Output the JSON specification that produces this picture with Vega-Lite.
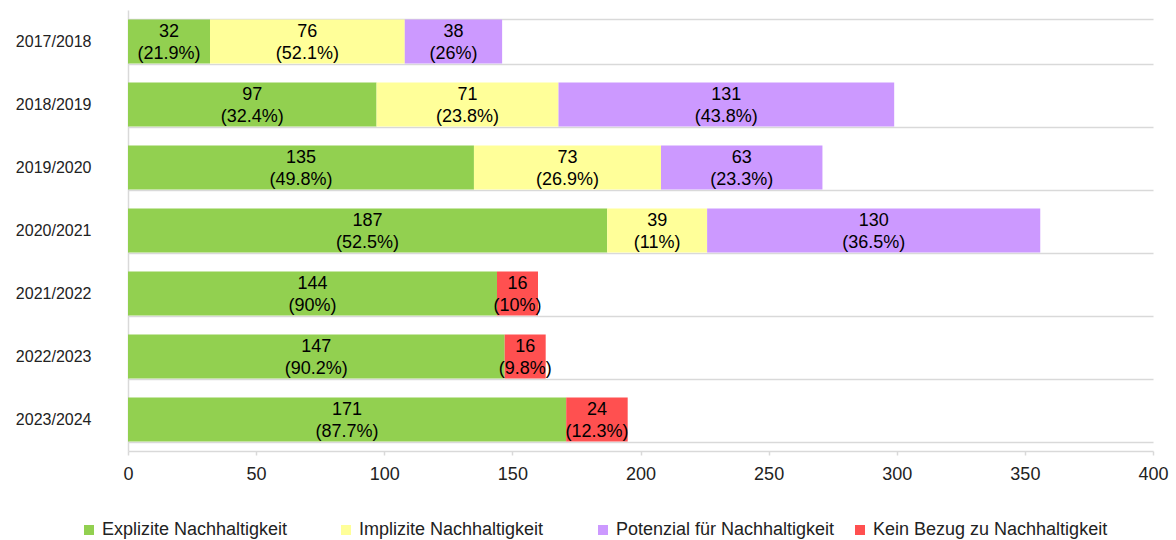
{
  "$schema": "https://vega.github.io/schema/vega-lite/v6.json",
  "width": 1025,
  "height": 441,
  "autosize": {"type": "none"},
  "padding": {"left": 128, "top": 10, "right": 23, "bottom": 89},
  "background": "white",
  "config": {
    "font": "Liberation Sans",
    "view": {"stroke": null}
  },
  "data": {
    "values": [
      {"year": "2017/2018", "cat": "Explizite Nachhaltigkeit", "value": 32, "label": "32\n(21.9%)"},
      {"year": "2017/2018", "cat": "Implizite Nachhaltigkeit", "value": 76, "label": "76\n(52.1%)"},
      {"year": "2017/2018", "cat": "Potenzial für Nachhaltigkeit", "value": 38, "label": "38\n(26%)"},
      {"year": "2018/2019", "cat": "Explizite Nachhaltigkeit", "value": 97, "label": "97\n(32.4%)"},
      {"year": "2018/2019", "cat": "Implizite Nachhaltigkeit", "value": 71, "label": "71\n(23.8%)"},
      {"year": "2018/2019", "cat": "Potenzial für Nachhaltigkeit", "value": 131, "label": "131\n(43.8%)"},
      {"year": "2019/2020", "cat": "Explizite Nachhaltigkeit", "value": 135, "label": "135\n(49.8%)"},
      {"year": "2019/2020", "cat": "Implizite Nachhaltigkeit", "value": 73, "label": "73\n(26.9%)"},
      {"year": "2019/2020", "cat": "Potenzial für Nachhaltigkeit", "value": 63, "label": "63\n(23.3%)"},
      {"year": "2020/2021", "cat": "Explizite Nachhaltigkeit", "value": 187, "label": "187\n(52.5%)"},
      {"year": "2020/2021", "cat": "Implizite Nachhaltigkeit", "value": 39, "label": "39\n(11%)"},
      {"year": "2020/2021", "cat": "Potenzial für Nachhaltigkeit", "value": 130, "label": "130\n(36.5%)"},
      {"year": "2021/2022", "cat": "Explizite Nachhaltigkeit", "value": 144, "label": "144\n(90%)"},
      {"year": "2021/2022", "cat": "Kein Bezug zu Nachhaltigkeit", "value": 16, "label": "16\n(10%)"},
      {"year": "2022/2023", "cat": "Explizite Nachhaltigkeit", "value": 147, "label": "147\n(90.2%)"},
      {"year": "2022/2023", "cat": "Kein Bezug zu Nachhaltigkeit", "value": 16, "label": "16\n(9.8%)"},
      {"year": "2023/2024", "cat": "Explizite Nachhaltigkeit", "value": 171, "label": "171\n(87.7%)"},
      {"year": "2023/2024", "cat": "Kein Bezug zu Nachhaltigkeit", "value": 24, "label": "24\n(12.3%)"}
    ]
  },
  "encoding": {
    "y": {
      "field": "year", "type": "nominal", "title": null,
      "scale": {"paddingInner": 0.3, "paddingOuter": 0.15},
      "axis": {
        "ticks": false, "labelFontSize": 16, "labelColor": "#222222", "labelPadding": 37,
        "domainColor": "#d9d9d9", "domainWidth": 1.5,
        "grid": true, "gridColor": "#d9d9d9", "gridWidth": 1.5, "tickBand": "extent"
      }
    }
  },
  "layer": [
    {
      "mark": {"type": "bar"},
      "encoding": {
        "x": {
          "field": "value", "type": "quantitative", "stack": "zero", "title": null,
          "scale": {"domain": [0, 400], "nice": false},
          "axis": {
            "values": [0, 50, 100, 150, 200, 250, 300, 350, 400],
            "grid": false, "domainColor": "#d9d9d9", "domainWidth": 1.5,
            "tickColor": "#d9d9d9", "tickWidth": 1.5, "tickSize": 4, "labelFlush": false,
            "labelFontSize": 18, "labelColor": "#222222", "labelPadding": 10
          }
        },
        "color": {
          "field": "cat", "type": "nominal", "title": null,
          "scale": {
            "domain": ["Explizite Nachhaltigkeit", "Implizite Nachhaltigkeit", "Potenzial für Nachhaltigkeit", "Kein Bezug zu Nachhaltigkeit"],
            "range": ["#92D050", "#FFFF99", "#CC99FF", "#FF5050"]
          },
          "legend": {
            "orient": "none", "legendX": -48, "legendY": 511,
            "direction": "horizontal", "columns": 4, "columnPadding": -10, "gridAlign": "all",
            "symbolType": "square", "symbolSize": 100, "symbolStrokeWidth": 0,
            "labelFontSize": 18, "labelColor": "#222222", "labelOffset": 4, "labelLimit": 0
          }
        },
        "order": {"field": "cat", "sort": "ascending"}
      }
    },
    {
      "mark": {"type": "text", "fontSize": 18, "lineBreak": "\n", "lineHeight": 22, "dy": -10, "color": "#000000", "baseline": "middle"},
      "encoding": {
        "x": {"field": "value", "type": "quantitative", "stack": "zero", "bandPosition": 0.5},
        "detail": {"field": "cat"},
        "order": {"field": "cat", "sort": "ascending"},
        "text": {"field": "label"}
      }
    }
  ]
}
